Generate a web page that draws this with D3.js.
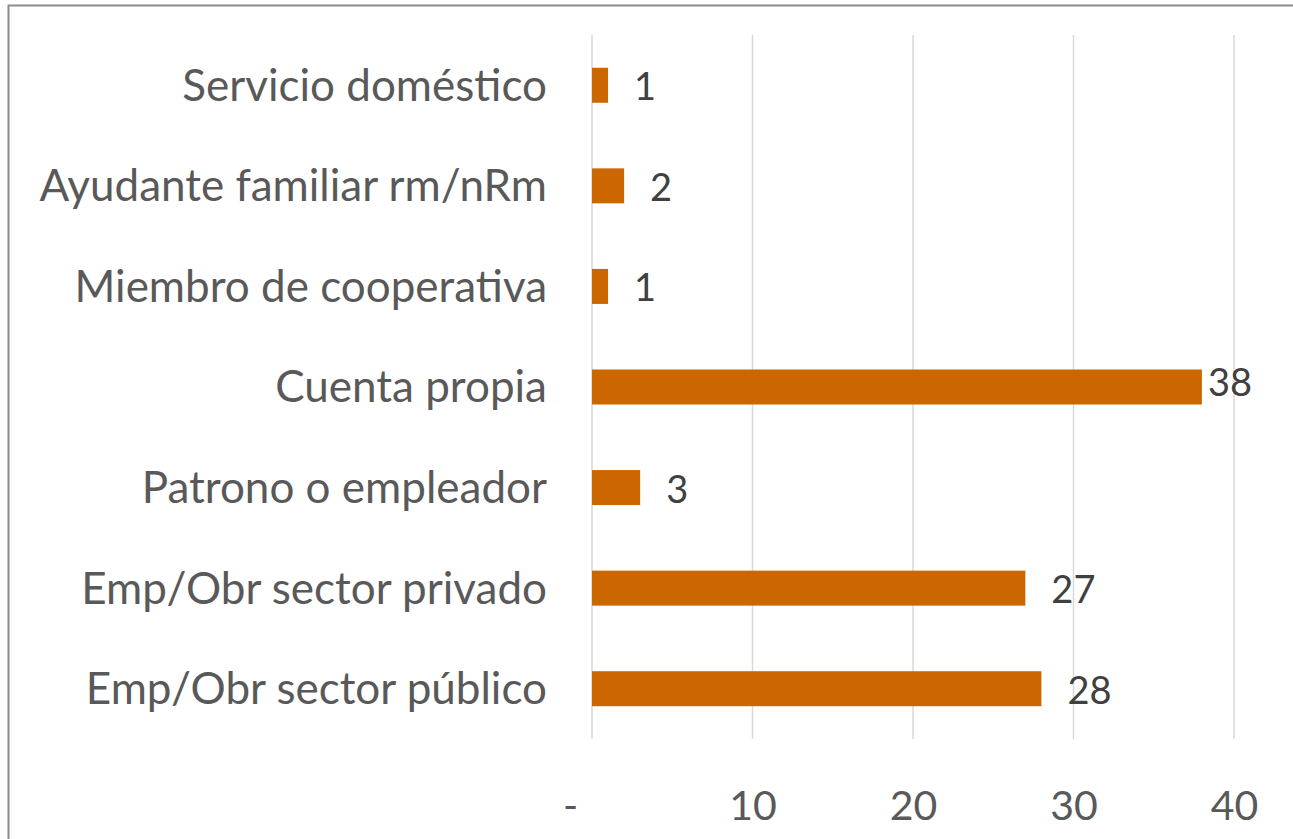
<!DOCTYPE html>
<html>
<head>
<meta charset="utf-8">
<script src="https://cdn.jsdelivr.net/npm/d3@7"></script>
<style>
  html, body { margin: 0; padding: 0; background: #fff; }
  svg { display: block; }
</style>
</head>
<body>
<svg id="chart" width="1293" height="839"></svg>
<script>
// Categories listed top to bottom, with their values
const categories = [
  "Servicio doméstico",
  "Ayudante familiar rm/nRm",
  "Miembro de cooperativa",
  "Cuenta propia",
  "Patrono o empleador",
  "Emp/Obr sector privado",
  "Emp/Obr sector público"
];
const values = [1, 2, 1, 38, 3, 27, 28];
const tickValues = [0, 10, 20, 30, 40];
const tickLabels = ["-", "10", "20", "30", "40"];

const svg = d3.select("#chart");
const font = "Lato, 'Open Sans', sans-serif";

// outer chart frame (only left and top edges visible)
svg.append("path")
  .attr("d", "M8.5,839 L8.5,5.5 L1293,5.5")
  .attr("fill", "none")
  .attr("stroke", "#8c8c8c")
  .attr("stroke-width", 2);

const plot = { left: 592, right: 1234, top: 35, bottom: 739 };

const x = d3.scaleLinear().domain([0, 40]).range([plot.left, plot.right]);
const y = d3.scaleBand().domain(categories).range([plot.top, plot.bottom]).paddingInner(0.652).paddingOuter(0.326);

// vertical gridlines
svg.append("g")
  .selectAll("line")
  .data(tickValues)
  .join("line")
  .attr("x1", d => x(d)).attr("x2", d => x(d))
  .attr("y1", plot.top).attr("y2", plot.bottom)
  .attr("stroke", "#d9d9d9")
  .attr("stroke-width", 1.5);

// x tick labels
const xAxis = d3.axisBottom(x).tickValues(tickValues)
  .tickFormat((d, i) => tickLabels[i]).tickSize(0).tickPadding(0);
const gx = svg.append("g").attr("transform", `translate(0,${plot.bottom})`).call(xAxis);
gx.select(".domain").remove();
gx.selectAll("text")
  .attr("y", 81)
  .attr("dy", 0)
  .attr("fill", "#595959")
  .style("font-family", font)
  .style("font-size", "41px")
  .attr("dx", d => d === 0 ? -22 : 0);

// category labels
const yAxis = d3.axisLeft(y).tickSize(0).tickPadding(0);
const gy = svg.append("g").attr("transform", `translate(${plot.left - 45},0)`).call(yAxis);
gy.select(".domain").remove();
gy.selectAll("text")
  .attr("fill", "#595959")
  .attr("dy", "0.35em")
  .style("font-family", font)
  .style("font-size", "44px");

// bars
const rows = categories.map((c, i) => ({ cat: c, val: values[i] }));
svg.append("g")
  .selectAll("rect")
  .data(rows)
  .join("rect")
  .attr("x", x(0))
  .attr("y", d => y(d.cat))
  .attr("width", d => x(d.val) - x(0))
  .attr("height", y.bandwidth())
  .attr("fill", "#cc6600");

// value labels
const labelLimit = 1250;
svg.append("g")
  .selectAll("text")
  .data(rows)
  .join("text")
  .text(d => d3.format("d")(d.val))
  .style("font-family", font)
  .style("font-size", "38px")
  .attr("fill", "#404040")
  .each(function (d) {
    const t = d3.select(this);
    const w = this.getComputedTextLength();
    let lx = x(d.val) + 26;
    let ly = y(d.cat) + y.bandwidth() / 2 + 15;
    if (lx + w > labelLimit) {
      lx = x(d.val) + 6;
      ly -= 6;
    }
    t.attr("x", lx).attr("y", ly);
  });
</script>
</body>
</html>
